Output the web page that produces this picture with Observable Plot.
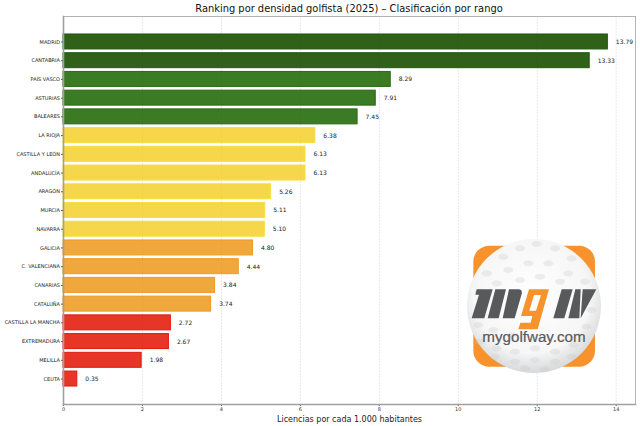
<!DOCTYPE html>
<html><head><meta charset="utf-8">
<script src="https://cdn.jsdelivr.net/npm/d3@7"></script>
<script src="https://cdn.jsdelivr.net/npm/@observablehq/plot@0.6"></script>
<style>
html,body{margin:0;padding:0;background:#fff;width:640px;height:426px;overflow:hidden}
#wrap{position:relative;width:640px;height:426px}
#title{position:absolute;left:0;top:3px;width:698px;text-align:center;font:9.9px/12px "DejaVu Sans";color:#111;white-space:nowrap}
#chart{position:absolute;left:0;top:0}
#logo{position:absolute;left:440px;top:220px}
svg{display:block}
</style></head><body>
<div id="wrap"><div id="chart"></div><div id="title">Ranking por densidad golfista (2025) – Clasificación por rango</div></div>
<script>
const comunidades = ["MADRID","CANTABRIA","PAÍS VASCO","ASTURIAS","BALEARES","LA RIOJA","CASTILLA Y LEÓN","ANDALUCÍA","ARAGÓN","MURCIA","NAVARRA","GALICIA","C. VALENCIANA","CANARIAS","CATALUÑA","CASTILLA LA MANCHA","EXTREMADURA","MELILLA","CEUTA"];
const densidad = [13.79,13.33,8.29,7.91,7.45,6.38,6.13,6.13,5.26,5.11,5.10,4.80,4.44,3.84,3.74,2.72,2.67,1.98,0.35];
const rangos = ["A","A","B","B","B","C","C","C","C","C","C","D","D","D","D","E","E","E","E"];
const rangoDominio = ["A","B","C","D","E"];
const rangoColor = ["#285c12","#35771c","#f6d646","#efa536","#e63020"];
const rangoBorde = ["#1f5a0c","#2a6a12","#f9dc3e","#ee9a22","#e2180c"];
const ticksX = [0,2,4,6,8,10,12,14];
const filas = comunidades.map((c,i)=>({c,v:densidad[i],r:rangos[i]}));
const borde = new Map(rangoDominio.map((r,i)=>[r,rangoBorde[i]]));

const chart = Plot.plot({
  width:640,height:426,marginLeft:63,marginRight:5,marginTop:16,marginBottom:22,
  style:{background:"#fff",fontFamily:"DejaVu Sans"},
  x:{domain:[0,14.49],ticks:ticksX,label:null},
  y:{domain:comunidades,paddingInner:0.2,paddingOuter:0.96,round:false,label:null},
  color:{domain:rangoDominio,range:rangoColor},
  marks:[
    Plot.ruleX(ticksX,{stroke:"#eeeeee",strokeWidth:1,strokeDasharray:"2,1"}),
    Plot.barX(filas,{x:"v",y:"c",fill:"r",fillOpacity:0.97,stroke:d=>borde.get(d.r),strokeWidth:1}),
    Plot.ruleX(ticksX,{stroke:"#000",strokeOpacity:0.025,strokeWidth:1,strokeDasharray:"2,1"}),
    Plot.text(filas,{x:"v",y:"c",text:d=>d.v.toFixed(2),dx:8,textAnchor:"start",fontSize:6,fill:"#222"}),
    Plot.axisY({anchor:"left",fontSize:5,tickSize:2,tickPadding:1.5,stroke:"#555",color:"#222",label:null}),
    Plot.axisX({anchor:"bottom",ticks:ticksX,fontSize:5,tickSize:2,tickPadding:1,stroke:"#555",color:"#333",label:null}),
    Plot.frame({stroke:"#b4b4b4",strokeWidth:1}),
    Plot.frame({anchor:"left",stroke:"#a0a0a0",strokeWidth:1.6}),
    Plot.frame({anchor:"bottom",stroke:"#a0a0a0",strokeWidth:1.6}),
    Plot.text(["Licencias por cada 1.000 habitantes"],{frameAnchor:"bottom",dy:17,fontSize:8,fill:"#222",fontFamily:"DejaVu Sans"})
  ]
});
document.getElementById("chart").appendChild(chart);

// Logo (decoración, no datos)
const dimples = [[190,110],[240,85],[290,72],[345,85],[395,115],[140,160],[205,150],[265,130],[325,130],[385,160],[435,185],[120,215],[170,190],[240,180],[300,170],[360,185],[440,230],[115,315],[160,330],[215,345],[120,365],[170,385],[225,395],[285,385],[345,395],[400,375],[440,320],[455,270],[165,410],[225,425],[285,420],[345,425],[395,410],[255,445],[315,448]];
const hoyos = dimples.map(([x,y])=>`<ellipse cx="${x}" cy="${y}" rx="15" ry="9" fill="#c9cbcd" opacity=".3"/>`).join("");
const logo = document.createElement("div");
logo.id = "logo";
logo.innerHTML = `<svg width="200" height="206" viewBox="0 0 600 618">
<defs><radialGradient id="b" cx="48%" cy="42%" r="58%"><stop offset="0" stop-color="#fff"/><stop offset=".75" stop-color="#f6f6f6"/><stop offset="1" stop-color="#d8d9da"/></radialGradient></defs>
<rect x="100" y="77" width="365" height="363" rx="48" fill="#f8922c"/>
<circle cx="282" cy="258" r="201" fill="url(#b)"/>
${hoyos}
<g fill="#58595b">
<polygon points="110,208 158,208 133,295 95,295 117,224 106,224"/>
<polygon points="166,208 198,208 176,295 143,295"/>
<path d="M207,208 L235,208 Q248,208 245,222 L224,295 L188,295 Z"/>
<polygon points="365,208 398,208 373,295 340,295"/>
<polygon points="406,208 422,208 418,295 385,295"/>
<polygon points="428,208 469,208 422,295"/>
</g>
<path fill="#f8922c" fill-rule="evenodd" d="M267,208 L327,208 L293,328 L235,328 L241,308 L272,308 L277,288 L243,288 Z M282,225 L303,225 L288,272 L268,272 Z"/>
<text x="282" y="367" text-anchor="middle" font-family="Liberation Sans" font-size="45.5" fill="#58595b" stroke="#58595b" stroke-width=".6">mygolfway.com</text>
</svg>`;
document.getElementById("wrap").appendChild(logo);
</script>
</body></html>
